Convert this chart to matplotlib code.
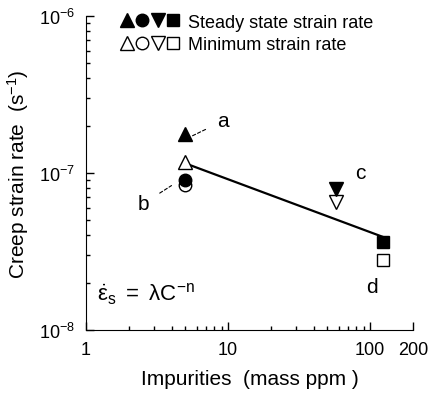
import matplotlib
matplotlib.use('Agg')
import matplotlib.pyplot as plt
from matplotlib.legend_handler import HandlerTuple

plt.rcParams['font.family'] = ['Liberation Sans', 'DejaVu Sans']
plt.rcParams['mathtext.fontset'] = 'custom'
plt.rcParams['mathtext.rm'] = 'Liberation Sans'
plt.rcParams['mathtext.it'] = 'Liberation Sans'
plt.rcParams['mathtext.bf'] = 'Liberation Sans:bold'

# 数据 (mass ppm, 1/s)
impurity = [5, 5, 58, 124]
steady_rate = [1.77e-7, 9.0e-8, 7.9e-8, 3.64e-8]
minimum_rate = [1.17e-7, 8.4e-8, 6.5e-8, 2.79e-8]
markers = ['^', 'o', 'v', 's']
msizes = [10, 9, 10, 9]

fit_x = [5, 124]
fit_y = [1.15e-7, 3.9e-8]

xticks = [1, 10, 100, 200]
xticklabels = ['1', '10', '100', '200']

fig = plt.figure(figsize=(4.3, 4.02), dpi=100)
ax = fig.add_axes([0.2, 0.177, 0.76, 0.781])

ax.plot(fit_x, fit_y, 'k-', lw=1.6, zorder=1)

h_fill, h_open = [], []
for i in range(4):
    h1, = ax.plot(impurity[i], steady_rate[i], ls='none', marker=markers[i],
                  ms=msizes[i], mfc='black', mec='black', zorder=3)
    h2, = ax.plot(impurity[i], minimum_rate[i], ls='none', marker=markers[i],
                  ms=msizes[i], mfc='white', mec='black', mew=1.0, zorder=2)
    h_fill.append(h1)
    h_open.append(h2)

ax.set_xscale('log')
ax.set_yscale('log')
ax.set_xlim(1, 200)
ax.set_ylim(1e-8, 1e-6)
ax.set_xticks(xticks, xticklabels)

for s in ['top', 'right']:
    ax.spines[s].set_visible(False)
ax.tick_params(which='both', direction='in', labelsize=13, width=1)
ax.tick_params(which='major', length=6, pad=8)
ax.tick_params(which='minor', length=3)

ax.set_xlabel('Impurities  (mass ppm )', fontsize=15, labelpad=8)
ax.set_ylabel('Creep strain rate  (s$^{-1}$)', fontsize=15, labelpad=6)

# 标注
dash = dict(arrowstyle='-', ls=(0, (3, 2)), lw=0.8, color='black')
ax.annotate('a', xy=(5.6, 1.72e-7), xytext=(9.2, 2.14e-7), fontsize=15,
            ha='center', va='center', arrowprops=dict(dash, shrinkA=7, shrinkB=0))
ax.annotate('b', xy=(4.0, 8.3e-8), xytext=(2.52, 6.35e-8), fontsize=15,
            ha='center', va='center', arrowprops=dict(dash, shrinkA=7, shrinkB=0))
ax.text(85, 1.01e-7, 'c', fontsize=15, ha='center', va='center')
ax.text(103, 1.9e-8, 'd', fontsize=15, ha='center', va='center')
ax.text(1.2, 1.7e-8, r'$\dot{\varepsilon}_{\rm s}\ =\ \lambda C^{-n}$', fontsize=16,
        ha='left', va='center')

ax.legend([tuple(h_fill), tuple(h_open)],
          ['Steady state strain rate', 'Minimum strain rate'],
          handler_map={tuple: HandlerTuple(ndivide=None, pad=0.0)},
          loc='upper left', bbox_to_anchor=(0.08, 1.03), frameon=False,
          fontsize=13, handlelength=3.4, handletextpad=0.4, labelspacing=0.3,
          borderaxespad=0)

fig.savefig('out.png', dpi=100)
